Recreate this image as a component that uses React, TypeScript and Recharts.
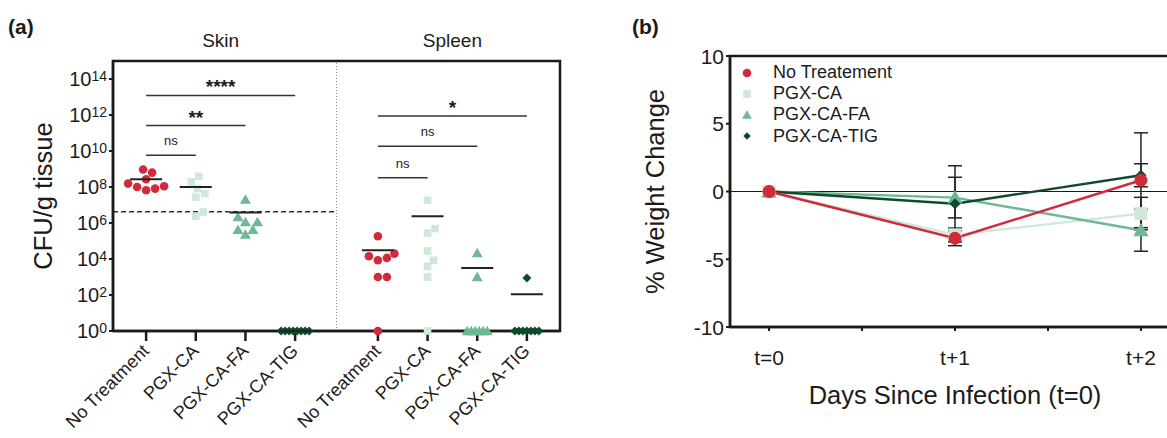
import React from 'react'
import {
  ScatterChart,
  Scatter,
  LineChart,
  Line,
  ErrorBar,
  XAxis,
  YAxis,
  ReferenceLine,
  ReferenceArea,
  Legend,
} from 'recharts'

const FONT = '"Liberation Sans", Arial, Helvetica, sans-serif'
const INK = '#1b1b1b'

// ---- panel (a): log10 CFU/g tissue ----
const organs = ['Skin', 'Spleen']
const groups = ['No Treatment', 'PGX-CA', 'PGX-CA-FA', 'PGX-CA-TIG']
const groupColors = ['#d12a3a', '#cfe8da', '#6cb993', '#0e4a2b']
const groupMarkers = ['circle', 'square', 'triangle', 'diamond']

const skinNoTreatment = [8.8, 8.97, 8.19, 8.0, 7.82, 7.91, 8.04, 8.43]
const skinPgxCa = [8.28, 8.59, 7.91, 7.63, 7.44, 6.37, 6.61]
const skinPgxCaFa = [7.3, 6.33, 6.06, 6.06, 5.63, 5.63, 5.36]
const skinPgxCaTig = [0, 0, 0, 0, 0, 0, 0, 0]
const spleenNoTreatment = [5.26, 4.15, 3.93, 4.06, 4.3, 3.0, 3.0, 0]
const spleenPgxCa = [7.26, 5.44, 5.69, 4.45, 3.93, 3.59, 3.0, 0]
const spleenPgxCaFa = [4.33, 3.0, 0, 0, 0, 0, 0, 0]
const spleenPgxCaTig = [2.94, 0, 0, 0, 0, 0, 0, 0]

const skinMeans = [8.43, 8.0, 6.59, 0]
const spleenMeans = [4.48, 6.37, 3.5, 2.04]
const detectionLimit = 6.63
const logTicks = [0, 2, 4, 6, 8, 10, 12, 14]

// comparisons against No Treatment
const skinStats = [
  { to: 1, level: 9.76, label: 'ns' },
  { to: 2, level: 11.41, label: '**' },
  { to: 3, level: 13.09, label: '****' },
]
const spleenStats = [
  { to: 1, level: 8.52, label: 'ns' },
  { to: 2, level: 10.26, label: 'ns' },
  { to: 3, level: 11.94, label: '*' },
]

// ---- panel (b): % weight change ----
const days = ['t=0', 't+1', 't+2']
const weightNames = ['No Treatement', 'PGX-CA', 'PGX-CA-FA', 'PGX-CA-TIG']
const noTreatWeight = [0, -3.45, 0.83]
const noTreatSd = [0, 0.55, 3.5]
const pgxCaWeight = [0, -3.2, -1.63]
const pgxCaSd = [0, 0.5, 1.2]
const pgxCaFaWeight = [0, -0.45, -2.86]
const pgxCaFaSd = [0, 1.5, 1.55]
const pgxCaTigWeight = [0, -0.9, 1.2]
const pgxCaTigSd = [0, 2.8, 0.85]

const cfuSets = [
  [skinNoTreatment, skinPgxCa, skinPgxCaFa, skinPgxCaTig],
  [spleenNoTreatment, spleenPgxCa, spleenPgxCaFa, spleenPgxCaTig],
]
const organMeans = [skinMeans, spleenMeans]
const organStats = [skinStats, spleenStats]

const ORGAN_STRIDE = 14 / 3
const groupPos = (o: number, g: number) => o * ORGAN_STRIDE + g + 2 / 3
const groupTicks = organs.flatMap((_, o) => groups.map((_, g) => groupPos(o, g)))
const organCenters = organs.map((_, o) => (groupPos(o, 0) + groupPos(o, 3)) / 2)
const DIVIDER = 4.5

// horizontal spread of points (pixels), scatter-dot-plot style
function swarm(vals: number[]) {
  const ppd = 18
  const d = 8.5
  const out = vals.map(() => 0)
  const floor = vals.map((v, i) => (v <= 0 ? i : -1)).filter((i) => i >= 0)
  floor.forEach((i, k) => (out[i] = (k - (floor.length - 1) / 2) * 4))
  const placed: { x: number; y: number }[] = []
  const order = vals
    .map((_, i) => i)
    .filter((i) => vals[i] > 0)
    .sort((a, b) => vals[a] - vals[b])
  for (const i of order) {
    const y = vals[i] * ppd
    for (let k = 0; k < 60; k++) {
      const c = k === 0 ? 0 : (k % 2 ? 1 : -1) * Math.ceil(k / 2) * 1.5
      if (placed.every((p) => (p.x - c) ** 2 + (p.y - y) ** 2 >= d * d)) {
        out[i] = c
        placed.push({ x: c, y })
        break
      }
    }
  }
  return out
}

function Marker({ kind, cx, cy, size, fill }: any) {
  const h = size / 2
  if (kind === 'circle') return <circle cx={cx} cy={cy} r={h} fill={fill} />
  if (kind === 'square')
    return <rect x={cx - h} y={cy - h} width={size} height={size} fill={fill} />
  if (kind === 'triangle')
    return (
      <polygon
        points={`${cx},${cy - h * 1.05} ${cx + h * 1.1},${cy + h * 0.85} ${cx - h * 1.1},${cy + h * 0.85}`}
        fill={fill}
      />
    )
  return (
    <polygon
      points={`${cx},${cy - h} ${cx + h},${cy} ${cx},${cy + h} ${cx - h},${cy}`}
      fill={fill}
    />
  )
}

const cfuMarkerSize = [8.6, 7.6, 10, 9]

function LogTick({ x, y, payload }: any) {
  return (
    <text x={x} y={y + 7} textAnchor="end" fontSize={20} fill={INK} fontFamily={FONT}>
      10
      <tspan dy={-5} fontSize={14}>
        {payload.value}
      </tspan>
    </text>
  )
}

function GroupTick({ x, y, index }: any) {
  const ax = x + 4
  const ay = y + 9
  return (
    <text
      x={ax}
      y={ay}
      transform={`rotate(-45 ${ax} ${ay})`}
      textAnchor="end"
      fontSize={18}
      fill={INK}
      fontFamily={FONT}
    >
      {groups[index % groups.length]}
    </text>
  )
}

function OrganTick({ x, y, index }: any) {
  return (
    <text x={x} y={y - 12} textAnchor="middle" fontSize={19} fill={INK} fontFamily={FONT}>
      {organs[index]}
    </text>
  )
}

const bracketLabel = (text: string) => (props: any) => {
  const vb = props.viewBox
  const star = text.includes('*')
  return (
    <text
      x={vb.x + vb.width / 2}
      y={vb.y - (star ? 2 : 10)}
      textAnchor="middle"
      fontSize={star ? 19 : 13}
      fontWeight={star ? 700 : 400}
      fill={INK}
      fontFamily={FONT}
    >
      {text}
    </text>
  )
}

const sideTitle = (text: string, dx: number) => (props: any) => {
  const vb = props.viewBox
  const cx = vb.x + dx
  const cy = vb.y + vb.height / 2
  return (
    <text
      x={cx}
      y={cy}
      transform={`rotate(-90 ${cx} ${cy})`}
      textAnchor="middle"
      fontSize={25.5}
      fill={INK}
      fontFamily={FONT}
    >
      {text}
    </text>
  )
}

function CfuChart() {
  return (
    <ScatterChart width={580} height={438} margin={{ top: 31, right: 20, bottom: 7, left: 58 }}>
      <XAxis
        xAxisId="organ"
        orientation="top"
        type="number"
        dataKey="x"
        domain={[0, 9]}
        ticks={organCenters}
        allowDataOverflow
        axisLine={false}
        tickLine={false}
        tickSize={0}
        height={30}
        interval={0}
        tick={(p: any) => <OrganTick {...p} />}
      />
      <XAxis
        type="number"
        dataKey="x"
        domain={[0, 9]}
        ticks={groupTicks}
        interval={0}
        height={100}
        tickSize={10}
        axisLine={{ stroke: INK, strokeWidth: 2.5 }}
        tickLine={{ stroke: INK, strokeWidth: 2.5 }}
        tick={(p: any) => <GroupTick {...p} />}
      />
      <YAxis
        type="number"
        dataKey="y"
        domain={[0, 15]}
        ticks={logTicks}
        interval={0}
        width={55}
        tickSize={4}
        axisLine={{ stroke: INK, strokeWidth: 2.5 }}
        tickLine={{ stroke: INK, strokeWidth: 2 }}
        tick={(p: any) => <LogTick {...p} />}
        label={sideTitle('CFU/g tissue', -6)}
      />
      <ReferenceArea x1={0} x2={9} y1={0} y2={15} fill="none" stroke={INK} strokeWidth={2.5} />
      <ReferenceLine x={DIVIDER} stroke="#8a8a8a" strokeWidth={1} strokeDasharray="1 2" />
      <ReferenceLine
        segment={[
          { x: 0, y: detectionLimit },
          { x: DIVIDER, y: detectionLimit },
        ]}
        stroke="#333"
        strokeWidth={1.5}
        strokeDasharray="5 3"
      />
      {organStats.flatMap((stats, o) =>
        stats.map((s) => (
          <ReferenceLine
            key={`st-${o}-${s.to}`}
            segment={[
              { x: groupPos(o, 0), y: s.level },
              { x: groupPos(o, s.to), y: s.level },
            ]}
            stroke="#333"
            strokeWidth={1.5}
            label={bracketLabel(s.label)}
          />
        )),
      )}
      {cfuSets.flatMap((sets, o) =>
        sets.map((vals, g) => {
          const offs = swarm(vals)
          const data = vals.map((v, i) => ({ x: groupPos(o, g), y: v, dx: offs[i] }))
          return (
            <Scatter
              key={`pt-${o}-${g}`}
              data={data}
              isAnimationActive={false}
              shape={(p: any) => (
                <Marker
                  kind={groupMarkers[g]}
                  cx={p.cx + p.payload.dx}
                  cy={p.cy}
                  size={cfuMarkerSize[g]}
                  fill={groupColors[g]}
                />
              )}
            />
          )
        }),
      )}
      <Scatter
        data={organMeans.flatMap((m, o) => m.map((v, g) => ({ x: groupPos(o, g), y: v })))}
        isAnimationActive={false}
        shape={(p: any) => (
          <line x1={p.cx - 16} x2={p.cx + 16} y1={p.cy} y2={p.cy} stroke="#222" strokeWidth={2} />
        )}
      />
    </ScatterChart>
  )
}

const weightRows = days.map((_, i) => ({
  day: i,
  nt: noTreatWeight[i],
  ntSd: noTreatSd[i],
  ca: pgxCaWeight[i],
  caSd: pgxCaSd[i],
  fa: pgxCaFaWeight[i],
  faSd: pgxCaFaSd[i],
  tig: pgxCaTigWeight[i],
  tigSd: pgxCaTigSd[i],
}))
const weightKeys = ['nt', 'ca', 'fa', 'tig']
const drawOrder = [1, 2, 3, 0]
const weightMarkerSize = [13, 13, 14, 11]
const legendMarkerSize = [8.6, 7.6, 9, 7.5]

function WeightLegend() {
  return (
    <div style={{ fontFamily: FONT, fontSize: 18, color: INK }}>
      {weightNames.map((n, g) => (
        <div key={n} style={{ display: 'flex', alignItems: 'center', height: 21.2 }}>
          <svg width={16} height={16} style={{ display: 'block' }}>
            <Marker kind={groupMarkers[g]} cx={8} cy={8} size={legendMarkerSize[g]} fill={groupColors[g]} />
          </svg>
          <span style={{ marginLeft: 18, lineHeight: '21.2px', whiteSpace: 'nowrap' }}>{n}</span>
        </div>
      ))}
    </div>
  )
}

function WeightChart() {
  return (
    <LineChart
      width={600}
      height={438}
      data={weightRows}
      margin={{ top: 56, right: 40, bottom: 41, left: 60 }}
    >
      <XAxis
        type="number"
        dataKey="day"
        domain={[-0.21, 2.21]}
        ticks={[0, 0.5, 1, 1.5, 2]}
        interval={0}
        height={70}
        tickSize={4}
        axisLine={{ stroke: INK, strokeWidth: 2.5 }}
        tickLine={{ stroke: INK, strokeWidth: 2 }}
        tick={(p: any) =>
          Number.isInteger(p.payload.value) ? (
            <text x={p.x} y={p.y + 32} textAnchor="middle" fontSize={21} fill={INK} fontFamily={FONT}>
              {days[p.payload.value]}
            </text>
          ) : (
            <g />
          )
        }
        label={(props: any) => {
          const vb = props.viewBox
          return (
            <text
              x={vb.x + vb.width / 2}
              y={vb.y + 77}
              textAnchor="middle"
              fontSize={25.5}
              fill={INK}
              fontFamily={FONT}
            >
              Days Since Infection (t=0)
            </text>
          )
        }}
      />
      <YAxis
        type="number"
        domain={[-10, 10]}
        ticks={[-10, -5, 0, 5, 10]}
        interval={0}
        width={50}
        tickSize={4}
        axisLine={{ stroke: INK, strokeWidth: 2.5 }}
        tickLine={{ stroke: INK, strokeWidth: 2 }}
        tick={(p: any) => (
          <text x={p.x} y={p.y + 7.5} textAnchor="end" fontSize={21} fill={INK} fontFamily={FONT}>
            {p.payload.value}
          </text>
        )}
        label={sideTitle('% Weight Change', -16)}
      />
      <ReferenceArea x1={-0.21} x2={2.21} y1={-10} y2={10} fill="none" stroke={INK} strokeWidth={2.5} />
      <ReferenceLine y={0} stroke={INK} strokeWidth={1.2} />
      <Legend
        layout="horizontal"
        verticalAlign="middle"
        align="center"
        wrapperStyle={{ left: 119, top: 62, width: 220, height: 90 }}
        content={() => <WeightLegend />}
      />
      {drawOrder.map((g) => (
        <Line
          key={weightKeys[g]}
          type="linear"
          dataKey={weightKeys[g]}
          name={weightNames[g]}
          stroke={groupColors[g]}
          strokeWidth={2.4}
          isAnimationActive={false}
          activeDot={false}
          dot={(p: any) => (
            <Marker
              key={`${weightKeys[g]}-${p.index}`}
              kind={groupMarkers[g]}
              cx={p.cx}
              cy={p.cy}
              size={weightMarkerSize[g]}
              fill={groupColors[g]}
            />
          )}
        >
          <ErrorBar
            dataKey={`${weightKeys[g]}Sd`}
            direction="y"
            width={7}
            stroke="#222"
            strokeWidth={1.5}
          />
        </Line>
      ))}
    </LineChart>
  )
}

export default function App() {
  return (
    <div
      style={{
        position: 'absolute',
        left: 0,
        top: 0,
        width: 1167,
        height: 438,
        overflow: 'hidden',
        background: '#fff',
        fontFamily: FONT,
        color: INK,
      }}
    >
      <div style={{ position: 'absolute', left: 0, top: 0 }}>
        <CfuChart />
      </div>
      <div style={{ position: 'absolute', left: 620, top: 0 }}>
        <WeightChart />
      </div>
      <div style={{ position: 'absolute', left: 8, top: 16, fontSize: 21, lineHeight: '21px', fontWeight: 700 }}>
        (a)
      </div>
      <div style={{ position: 'absolute', left: 632, top: 16, fontSize: 21, lineHeight: '21px', fontWeight: 700 }}>
        (b)
      </div>
    </div>
  )
}
